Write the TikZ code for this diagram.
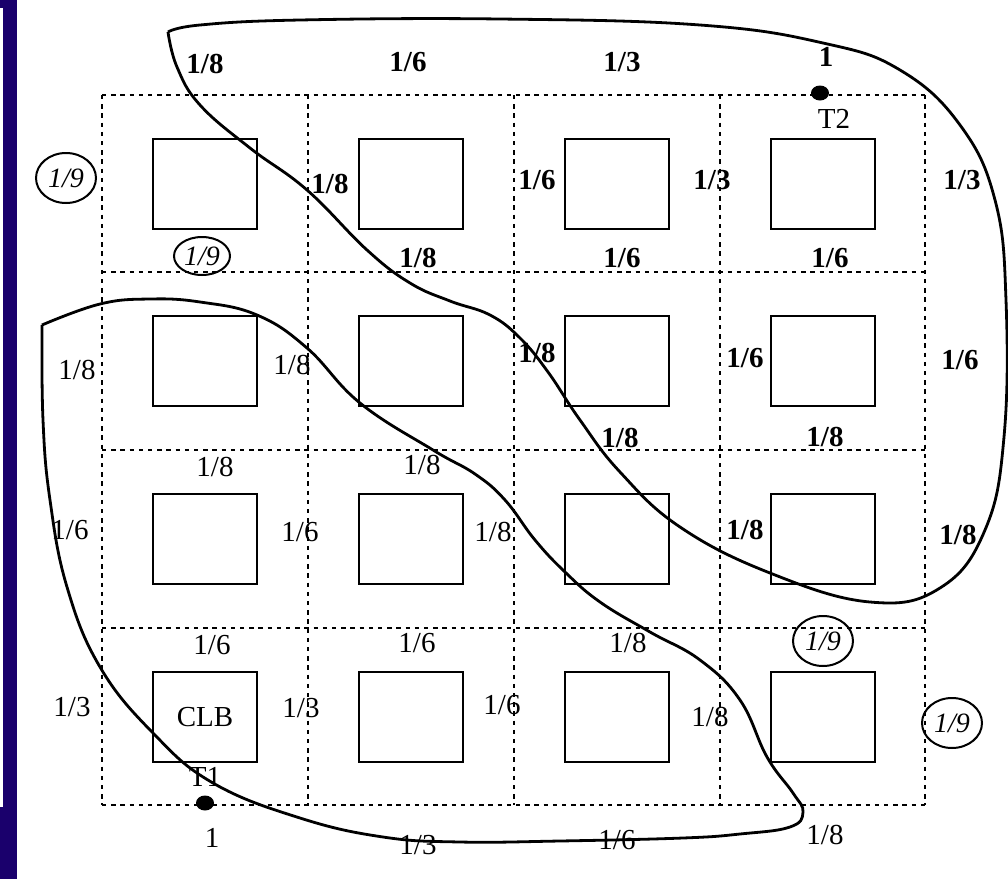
\documentclass[tikz,border=0pt]{standalone}
\usepackage{fontspec}
\setmainfont{Liberation Serif}
\usepackage{tikz}
\usetikzlibrary{shapes,positioning}
\definecolor{barblue}{RGB}{26,0,108}
\tikzstyle{cellline} = [line width=1.3pt, dash pattern=on 2.2pt off 2.4pt]
\tikzstyle{clbbox} = [rectangle, draw, line width=1pt, minimum width=52pt, minimum height=45pt, inner sep=0pt]
\tikzstyle{wlabel} = [inner sep=0pt, font=\fontsize{14.5}{17}\selectfont]
\tikzstyle{blabel} = [inner sep=0pt, font=\fontsize{14.5}{17}\selectfont\bfseries]
\tikzstyle{olabel} = [ellipse, draw, line width=1pt, inner sep=0pt, minimum width=30pt, minimum height=25pt, font=\fontsize{14}{17}\selectfont\itshape]
\tikzstyle{termdot} = [ellipse, fill, inner sep=0pt, minimum width=9pt, minimum height=7.5pt]
\tikzstyle{region} = [line width=1.4pt]

\begin{document}
\begin{tikzpicture}[x=0.5pt, y=-0.5pt]
\useasboundingbox (0,0) rectangle (1008,879);
% side bar
\fill[barblue] (0,0) rectangle (17,8);
\fill[barblue] (3,0) rectangle (17,807);
\fill[barblue] (0,807) rectangle (17,879);

% routing grid
\foreach \x in {102,308,514,720,925}
  \draw[cellline] (\x,95) -- (\x,805);
\foreach \y in {95,272,450,628,805}
  \draw[cellline] (102,\y) -- (925,\y);

% CLBs
\foreach \i/\cx in {1/205,2/411,3/617,4/823}
  \foreach \j/\cy in {1/184,2/361,3/539,4/717}
    \node[clbbox] (clb\j\i) at (\cx,\cy) {};
\node[wlabel] (clbname) at (clb41) {CLB};

% terminals
\node[termdot] (t1) at (205,803) {};
\node[wlabel, above=4pt of t1] (t1name) {T1};
\node[termdot] (t2) at (820,93) {};
\node[wlabel, below=4pt of t2, xshift=7pt] (t2name) {T2};

% region around T2
\draw[region] plot[smooth, tension=0.7] coordinates {
  (168,32) (177,67) (200,105) (250,148) (307,190) (367,250) (410,283)
  (450,301) (490,315) (520,338) (548,372) (580,420) (620,472) (680,527)
  (770,573) (870,602) (940,588) (985,530) (1004,437) (1006,300) (995,200)
  (960,125) (900,70) (823,43) (700,25) (500,19) (300,20) (200,25) (168,32)};

% region around T1
\draw[region] plot[smooth, tension=0.7] coordinates {
  (42,325) (100,304) (150,299) (200,302) (257,315) (307,348) (360,403)
  (433,450) (475,474) (505,500) (535,540) (565,572) (600,602) (650,632)
  (700,660) (740,700) (767,757) (793,793) (803,812) (790,827) (740,834)
  (683,838) (560,841) (460,842) (383,837) (300,818) (213,783) (153,733)
  (100,667) (67,587) (50,500) (43,420) (42,325)};

% top edge
\node[blabel] (e01) at (205,64) {1/8};
\node[blabel] (e02) at (408,62) {1/6};
\node[blabel] (e03) at (622,62) {1/3};
\node[blabel] (e04) at (826,57) {1};

% row 1
\node[olabel] (o1) at (66,178) {1/9};
\node[blabel] (v12) at (330,184) {1/8};
\node[blabel] (v13) at (537,180) {1/6};
\node[blabel] (v14) at (712,180) {1/3};
\node[blabel] (v15) at (962,180) {1/3};
\node[olabel, minimum width=28pt, minimum height=19pt] (o2) at (202,256) {1/9};
\node[blabel] (h12) at (418,258) {1/8};
\node[blabel] (h13) at (622,258) {1/6};
\node[blabel] (h14) at (830,258) {1/6};

% row 2
\node[wlabel] (v21) at (77,370) {1/8};
\node[wlabel] (v22) at (292,365) {1/8};
\node[blabel] (v23) at (537,353) {1/8};
\node[blabel] (v24) at (745,358) {1/6};
\node[blabel] (v25) at (960,360) {1/6};
\node[wlabel] (h21) at (215,467) {1/8};
\node[wlabel] (h22) at (422,465) {1/8};
\node[blabel] (h23) at (620,438) {1/8};
\node[blabel] (h24) at (825,437) {1/8};

% row 3
\node[wlabel] (v31) at (70,530) {1/6};
\node[wlabel] (v32) at (300,532) {1/6};
\node[wlabel] (v33) at (493,532) {1/8};
\node[blabel] (v34) at (745,530) {1/8};
\node[blabel] (v35) at (958,535) {1/8};
\node[wlabel] (h31) at (212,645) {1/6};
\node[wlabel] (h32) at (417,643) {1/6};
\node[wlabel] (h33) at (628,643) {1/8};
\node[olabel] (o3) at (823,641) {1/9};

% row 4
\node[wlabel] (v41) at (72,707) {1/3};
\node[wlabel] (v42) at (301,708) {1/3};
\node[wlabel] (v43) at (502,705) {1/6};
\node[wlabel] (v44) at (710,717) {1/8};
\node[olabel] (o4) at (952,723) {1/9};

% bottom edge
\node[wlabel] (e51) at (212,838) {1};
\node[wlabel] (e52) at (418,845) {1/3};
\node[wlabel] (e53) at (617,840) {1/6};
\node[wlabel] (e54) at (825,835) {1/8};
\end{tikzpicture}
\end{document}
